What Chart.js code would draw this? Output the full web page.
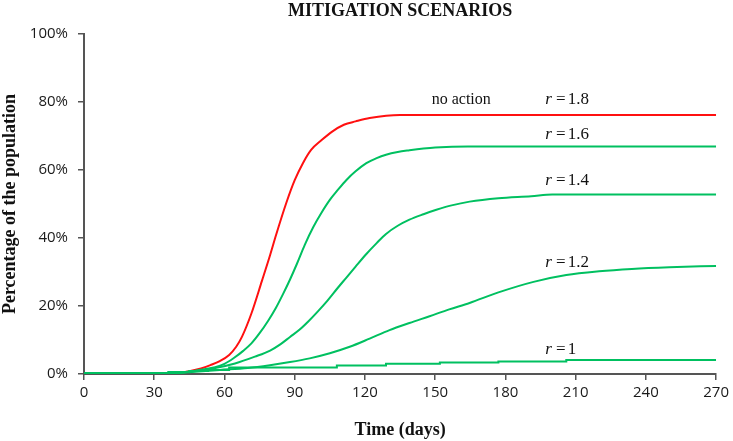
<!DOCTYPE html>
<html>
<head>
<meta charset="utf-8">
<script src="https://cdn.jsdelivr.net/npm/chart.js@4"></script>
<style>
  html, body { margin: 0; padding: 0; background: #fff; }
  #wrap { width: 733px; height: 441px; }
</style>
</head>
<body>
<div id="wrap"><canvas id="mitigationChart" width="733" height="441"></canvas></div>
<script>
// Values (days, percentage of the population)
const days18 = [0, 36, 40, 45, 50, 54, 58, 62, 65, 67.5, 71.5, 76, 79.5, 82, 86.5, 90, 93.5, 97, 101.5, 106, 111, 116, 122, 135, 270];
const pct18  = [0, 0, 0.3, 0.8, 1.6, 2.6, 3.8, 5.6, 8.0, 11, 17.8, 27.4, 35, 40.8, 50.5, 57, 62, 65.9, 68.8, 71.3, 73.3, 74.3, 75.3, 76.2, 76.2];

const days16 = [0, 36, 40, 46, 52, 56, 60, 64, 68, 71.5, 75, 78.6, 82, 85, 88, 91, 94.3, 98, 101.5, 105, 108.5, 112, 116, 120.6, 125, 129, 134, 139, 145, 150, 164, 270];
const pct16  = [0, 0, 0.3, 0.8, 1.5, 2.0, 3.0, 4.7, 6.8, 9, 12, 15.6, 19.5, 23.5, 27.8, 32.5, 38, 43.3, 47.5, 51.2, 54.2, 57, 59.6, 62, 63.5, 64.5, 65.3, 65.8, 66.3, 66.6, 66.9, 66.9];

const days14 = [0, 36, 40, 46, 55, 64.5, 73, 79.5, 84, 88, 92, 96, 100, 104, 108, 112, 116, 120.6, 125, 129, 134, 139, 145, 150.5, 157, 164.7, 177, 191, 200, 270];
const pct14  = [0, 0, 0.3, 0.7, 1.6, 3.1, 5.1, 6.9, 8.8, 10.9, 13.0, 15.6, 18.5, 21.6, 25, 28.3, 31.6, 35.3, 38.5, 41.2, 43.6, 45.4, 47, 48.3, 49.6, 50.7, 51.7, 52.3, 52.8, 52.8];

const days12 = [0, 36, 40, 46, 58, 70, 79.4, 88, 96.4, 105, 113.5, 122, 130.5, 139, 147.6, 156, 164.7, 177, 192, 206, 220, 234, 250, 270];
const pct12  = [0, 0, 0.3, 0.6, 1.2, 1.8, 2.6, 3.5, 4.6, 6.1, 8.0, 10.4, 12.9, 15.0, 17.0, 19.0, 20.9, 24.0, 27.1, 29.1, 30.2, 30.9, 31.4, 31.8];

// r = 1 moves in small steps
const days10 = [0, 36, 45, 53, 62, 108, 129, 152, 177, 206, 240, 270];
const pct10  = [0, 0.3, 0.6, 0.9, 1.2, 1.9, 2.5, 3.0, 3.4, 3.7, 4.1, 4.1];

const xTicks = [0, 30, 60, 90, 120, 150, 180, 210, 240, 270];
const yTicks = [0, 20, 40, 60, 80, 100];

// curve labels: [day, percent, value] ; "no action" goes next to r = 1.8
const curveLabels = [
  [197, 80.6, "1.8"],
  [197, 70.3, "1.6"],
  [197, 56.8, "1.4"],
  [197, 32.9, "1.2"],
  [197, 7.1, "1"]
];
const noActionLabel = [148.5, 80.6, "no action"];

const GREEN = "#00c060";
const RED = "#ff1010";
const AXIS = "#555555";

function pts(xs, ys) {
  return xs.map((x, i) => ({ x: x, y: ys[i] }));
}

const labelsPlugin = {
  id: "curveText",
  afterDraw(chart) {
    const ctx = chart.ctx;
    const xs = chart.scales.x, ys = chart.scales.y;
    ctx.save();
    ctx.fillStyle = "#111";
    ctx.textBaseline = "middle";
    ctx.textAlign = "left";
    curveLabels.forEach(l => {
      let px = xs.getPixelForValue(l[0]);
      const py = ys.getPixelForValue(l[1]);
      ctx.font = "italic 17px 'Liberation Serif'";
      ctx.fillText("r", px, py);
      px += ctx.measureText("r ").width;
      ctx.font = "17px 'Liberation Serif'";
      ctx.fillText("=", px, py);
      px += ctx.measureText("=").width + 2;
      ctx.fillText(l[2], px, py);
    });
    ctx.font = "16px 'Liberation Serif'";
    ctx.fillText(noActionLabel[2], xs.getPixelForValue(noActionLabel[0]), ys.getPixelForValue(noActionLabel[1]));

    // chart title
    const ca = chart.chartArea;
    ctx.font = "bold 18px 'Liberation Serif'";
    ctx.textAlign = "center";
    ctx.fillText("MITIGATION SCENARIOS", (ca.left + ca.right) / 2, 11);
    ctx.restore();
  }
};

const ctx = document.getElementById("mitigationChart").getContext("2d");

const mitigationChart = new Chart(ctx, {
  type: "line",
  data: {
    datasets: [
      { label: "r = 1", data: pts(days10, pct10), borderColor: GREEN, stepped: "after" },
      { label: "r = 1.2", data: pts(days12, pct12), borderColor: GREEN },
      { label: "r = 1.4", data: pts(days14, pct14), borderColor: GREEN },
      { label: "r = 1.6", data: pts(days16, pct16), borderColor: GREEN },
      { label: "r = 1.8", data: pts(days18, pct18), borderColor: RED, order: 1 }
    ]
  },
  options: {
    responsive: false,
    animation: false,
    layout: { padding: { top: 34, right: 16, left: 0, bottom: 0 } },
    elements: {
      point: { radius: 0 },
      line: { borderWidth: 2, cubicInterpolationMode: "monotone", fill: false }
    },
    plugins: {
      legend: { display: false },
      tooltip: { enabled: false },
      title: { display: false }
    },
    scales: {
      x: {
        type: "linear",
        min: 0,
        max: 270,
        afterBuildTicks: axis => { axis.ticks = xTicks.map(v => ({ value: v })); },
        afterFit: axis => { axis.height = 67; },
        border: { display: true, color: AXIS, width: 2 },
        grid: { drawOnChartArea: false, drawTicks: true, tickLength: 6, color: AXIS, lineWidth: 1.5 },
        ticks: { color: "#1a1a1a", font: { family: "'Open Sans'", size: 15 }, padding: 4, maxRotation: 0 },
        title: {
          display: true,
          text: "Time (days)",
          color: "#111",
          font: { family: "'Liberation Serif'", size: 18, weight: "bold" },
          padding: { top: 0, bottom: 0 }
        }
      },
      y: {
        type: "linear",
        min: 0,
        max: 100,
        afterBuildTicks: axis => { axis.ticks = yTicks.map(v => ({ value: v })); },
        afterFit: axis => { axis.width = 84; },
        border: { display: true, color: AXIS, width: 2 },
        grid: { drawOnChartArea: false, drawTicks: true, tickLength: 6, color: AXIS, lineWidth: 1.5 },
        ticks: {
          color: "#1a1a1a",
          font: { family: "'Open Sans'", size: 15 },
          padding: 10,
          callback: v => v + "%"
        },
        title: {
          display: true,
          text: "Percentage of the population",
          color: "#111",
          font: { family: "'Liberation Serif'", size: 18, weight: "bold" },
          padding: { top: 0, bottom: 0 }
        }
      }
    }
  },
  plugins: [labelsPlugin]
});
</script>
</body>
</html>
